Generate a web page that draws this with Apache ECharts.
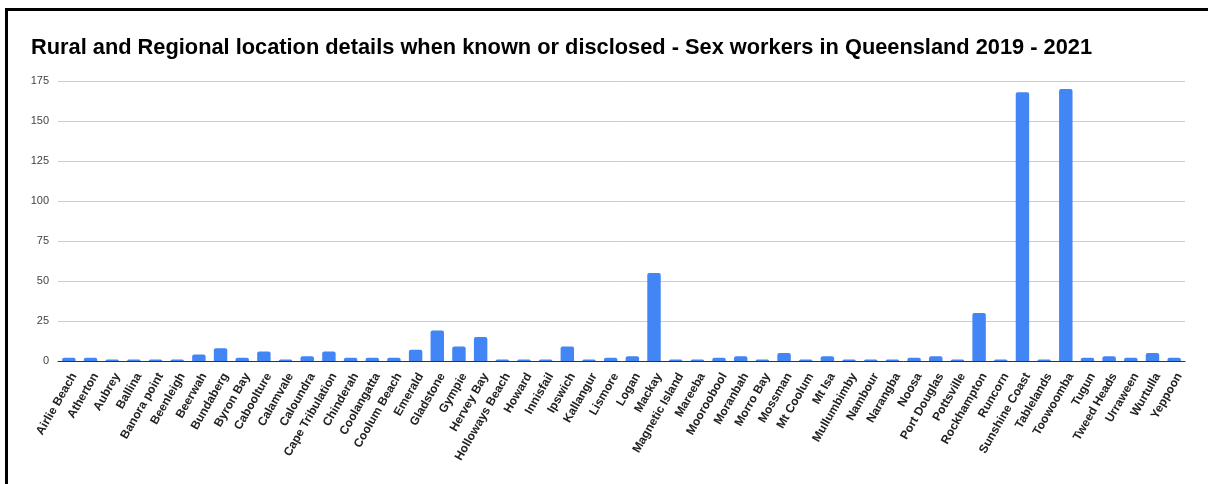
<!DOCTYPE html>
<html>
<head>
<meta charset="utf-8">
<script src="https://cdn.jsdelivr.net/npm/echarts@6/dist/echarts.min.js"></script>
<style>
html,body{margin:0;padding:0;background:#fff;}
#frame{position:absolute;left:5px;top:8px;width:1300px;height:600px;border-left:3px solid #000;border-top:3px solid #000;box-sizing:border-box;}
#chart{position:absolute;left:0;top:0;width:1208px;height:484px;}
</style>
</head>
<body>
<div id="frame"></div>
<div id="chart"></div>
<script>
const titleText = "Rural and Regional location details when known or disclosed - Sex workers in Queensland 2019 - 2021";
const categories = ["Airlie Beach","Atherton","Aubrey","Ballina","Banora point","Beenleigh","Beerwah","Bundaberg","Byron Bay","Caboolture","Calamvale","Caloundra","Cape Tribulation","Chinderah","Coolangatta","Coolum Beach","Emerald","Gladstone","Gympie","Hervey Bay","Holloways Beach","Howard","Innisfail","Ipswich","Kallangur","Lismore","Logan","Mackay","Magnetic Island","Mareeba","Mooroobool","Moranbah","Morro Bay","Mossman","Mt Coolum","Mt Isa","Mullumbimby","Nambour","Narangba","Noosa","Port Douglas","Pottsville","Rockhampton","Runcorn","Sunshine Coast","Tablelands","Toowoomba","Tugun","Tweed Heads","Urraween","Wurtulla","Yeppoon"];
const values = [2,2,1,1,1,1,4,8,2,6,1,3,6,2,2,2,7,19,9,15,1,1,1,9,1,2,3,55,1,1,2,3,1,5,1,3,1,1,1,2,3,1,30,1,168,1,170,2,3,2,5,2];
const yTicks = [0,25,50,75,100,125,150,175];

const chart = echarts.init(document.getElementById('chart'), null, {renderer:'canvas'});
chart.setOption({
  animation:false,
  backgroundColor:'transparent',
  title:{
    text:titleText,
    left:31, top:37, padding:0,
    textStyle:{fontFamily:'Liberation Sans, Arial, sans-serif',fontSize:21.8,fontWeight:'bold',color:'#000'}
  },
  grid:{left:58,right:23,top:81,bottom:123,containLabel:false},
  xAxis:{
    type:'category',
    data:categories,
    axisTick:{show:false},
    axisLine:{show:true,lineStyle:{color:'#333',width:1}},
    axisLabel:{
      interval:0,rotate:60,margin:10,verticalAlign:'top',
      fontFamily:'Liberation Sans, Arial, sans-serif',fontSize:12,fontWeight:'bold',color:'#222'
    }
  },
  yAxis:{
    type:'value',min:yTicks[0],max:yTicks[yTicks.length-1],interval:25,
    axisLine:{show:false},axisTick:{show:false},
    splitLine:{lineStyle:{color:'#ccc',width:1}},
    axisLabel:{margin:9,fontFamily:'Liberation Sans, Arial, sans-serif',fontSize:11,color:'#444'}
  },
  series:[{
    type:'bar',
    data:values,
    barCategoryGap:'38%',
    itemStyle:{color:'#4285F4',borderRadius:[2,2,0,0]}
  }]
});
</script>
</body>
</html>
